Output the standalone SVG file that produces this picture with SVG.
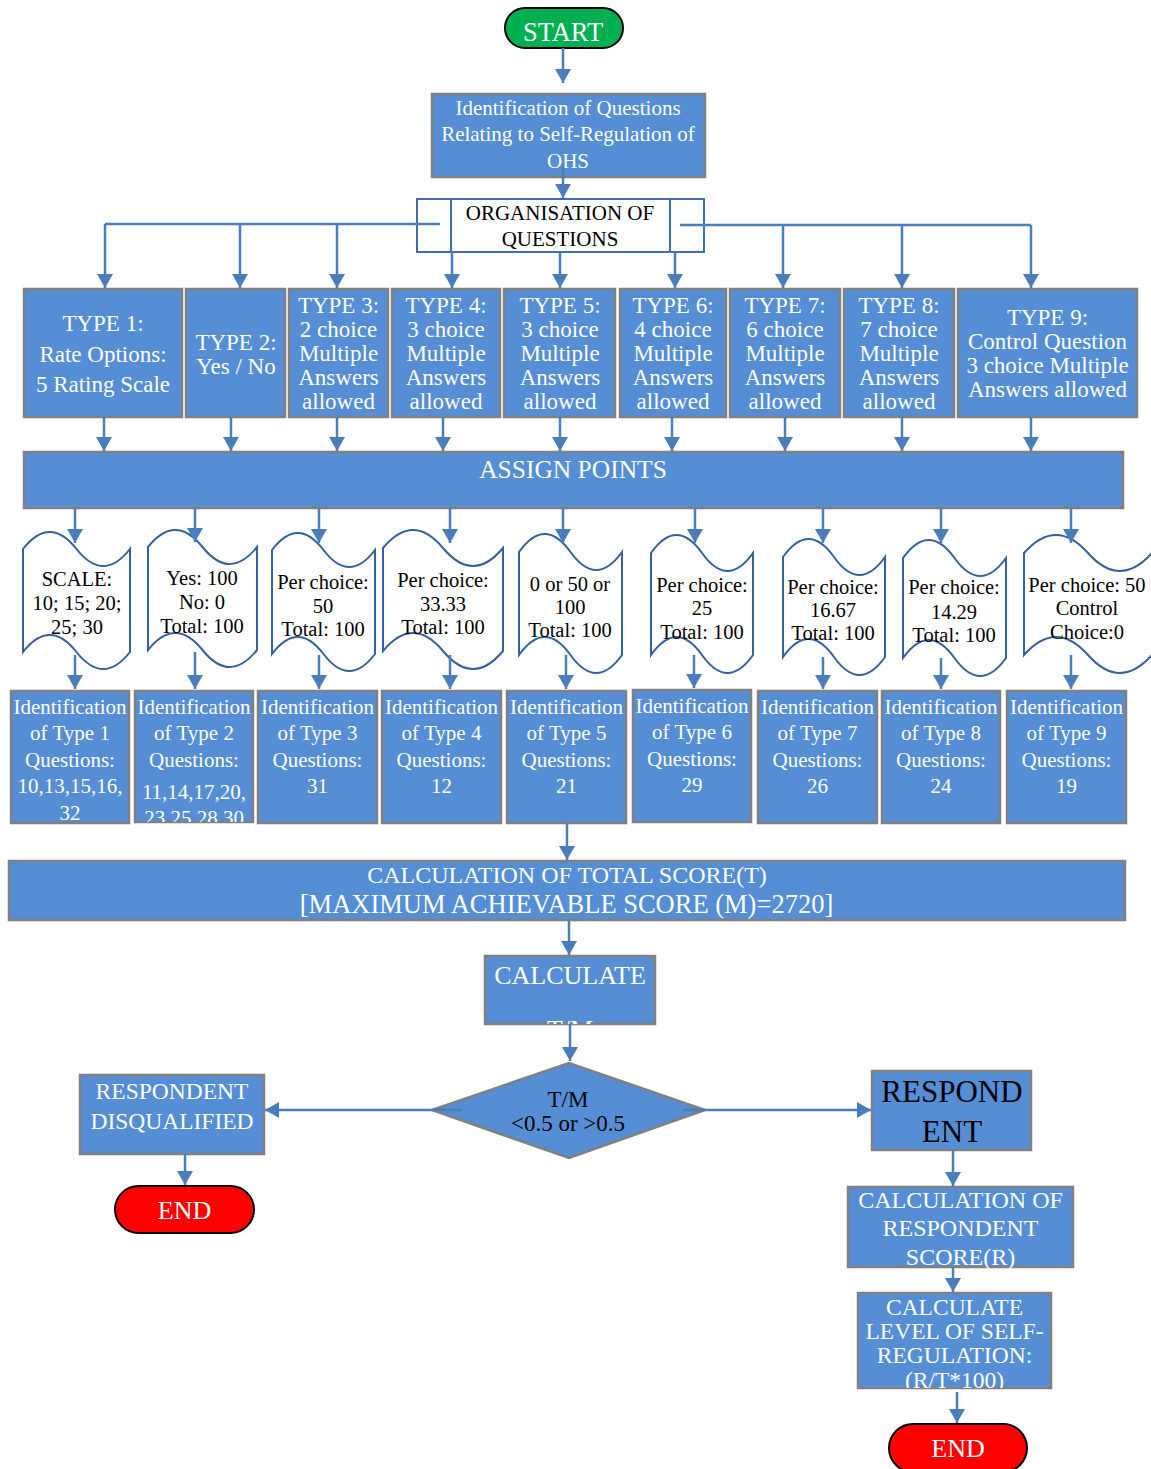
<svg xmlns="http://www.w3.org/2000/svg" width="1151" height="1469" viewBox="0 0 1151 1469">
<style>
text{font-family:"Liberation Serif","Times New Roman",serif;text-anchor:middle}
.box{fill:#558ed5;stroke:#808080;stroke-width:2.5}
.doc{fill:#ffffff;stroke:#35609f;stroke-width:2}
.w{fill:#ffffff}
.k{fill:#000000}
.t23{font-size:23px}
.t21{font-size:21px}
.t20{font-size:20.5px}
.conn path{fill:none;stroke:#4a7ebb;stroke-width:2.5}
.conn .a{marker-end:url(#ah)}
</style>
<defs>
<marker id="ah" viewBox="0 0 14 16" refX="14" refY="8" markerWidth="14" markerHeight="16" orient="auto" markerUnits="userSpaceOnUse"><path d="M0,0 L14,8 L0,16 z" fill="#4a7ebb"/></marker>
<clipPath id="c1"><rect x="11" y="691" width="118" height="132"/></clipPath>
<clipPath id="c2"><rect x="135" y="691" width="118" height="131"/></clipPath>
<clipPath id="c3"><rect x="485" y="956" width="170" height="68"/></clipPath>
<clipPath id="c4"><rect x="858" y="1293" width="193" height="95"/></clipPath>
</defs>

<g id="start">
<rect x="505" y="8" width="118" height="40" rx="20" fill="#00b050" stroke="#000" stroke-width="2"/>
<text x="563" y="41" class="w" font-size="26.5">START</text>
</g>

<g id="identify">
<rect class="box" x="432" y="94" width="273" height="83"/>
<text class="w t21" x="568" y="115">Identification of Questions</text>
<text class="w t21" x="568" y="141">Relating to Self-Regulation of</text>
<text class="w t21" x="568" y="168">OHS</text>
</g>

<g id="organisation">
<rect x="417" y="199" width="287" height="53" fill="#fff" stroke="#3f6fb0" stroke-width="2"/>
<line x1="451" y1="199" x2="451" y2="252" stroke="#3f6fb0" stroke-width="2"/>
<line x1="670" y1="199" x2="670" y2="252" stroke="#3f6fb0" stroke-width="2"/>
<text class="k" font-size="21" x="560" y="220">ORGANISATION OF</text>
<text class="k" font-size="21" x="560" y="246">QUESTIONS</text>
</g>

<g id="type1"><rect class="box" x="24" y="289" width="158" height="128"/>
<text class="w t23" x="103" y="331">TYPE 1:</text><text class="w t23" x="103" y="362">Rate Options:</text><text class="w t23" x="103" y="392">5 Rating Scale</text></g>
<g id="type2"><rect class="box" x="186" y="289" width="99" height="128"/>
<text class="w t23" x="236" y="350">TYPE 2:</text><text class="w t23" x="236" y="374">Yes / No</text></g>
<g id="type3"><rect class="box" x="289" y="289" width="99" height="128"/>
<text class="w t23" x="338.5" y="313">TYPE 3:</text><text class="w t23" x="338.5" y="337">2 choice</text><text class="w t23" x="338.5" y="361">Multiple</text><text class="w t23" x="338.5" y="385">Answers</text><text class="w t23" x="338.5" y="409">allowed</text></g>
<g id="type4"><rect class="box" x="392" y="289" width="108" height="128"/>
<text class="w t23" x="446" y="313">TYPE 4:</text><text class="w t23" x="446" y="337">3 choice</text><text class="w t23" x="446" y="361">Multiple</text><text class="w t23" x="446" y="385">Answers</text><text class="w t23" x="446" y="409">allowed</text></g>
<g id="type5"><rect class="box" x="504" y="289" width="111" height="128"/>
<text class="w t23" x="560" y="313">TYPE 5:</text><text class="w t23" x="560" y="337">3 choice</text><text class="w t23" x="560" y="361">Multiple</text><text class="w t23" x="560" y="385">Answers</text><text class="w t23" x="560" y="409">allowed</text></g>
<g id="type6"><rect class="box" x="620" y="289" width="106" height="128"/>
<text class="w t23" x="673" y="313">TYPE 6:</text><text class="w t23" x="673" y="337">4 choice</text><text class="w t23" x="673" y="361">Multiple</text><text class="w t23" x="673" y="385">Answers</text><text class="w t23" x="673" y="409">allowed</text></g>
<g id="type7"><rect class="box" x="730" y="289" width="110" height="128"/>
<text class="w t23" x="785" y="313">TYPE 7:</text><text class="w t23" x="785" y="337">6 choice</text><text class="w t23" x="785" y="361">Multiple</text><text class="w t23" x="785" y="385">Answers</text><text class="w t23" x="785" y="409">allowed</text></g>
<g id="type8"><rect class="box" x="844" y="289" width="110" height="128"/>
<text class="w t23" x="899" y="313">TYPE 8:</text><text class="w t23" x="899" y="337">7 choice</text><text class="w t23" x="899" y="361">Multiple</text><text class="w t23" x="899" y="385">Answers</text><text class="w t23" x="899" y="409">allowed</text></g>
<g id="type9"><rect class="box" x="958" y="289" width="179" height="128"/>
<text class="w t23" x="1047.5" y="325">TYPE 9:</text><text class="w t23" x="1047.5" y="349">Control Question</text><text class="w t23" x="1047.5" y="373">3 choice Multiple</text><text class="w t23" x="1047.5" y="397">Answers allowed</text></g>

<g id="assign"><rect class="box" x="24" y="452" width="1099" height="56"/>
<text class="w" font-size="25.5" x="573" y="478">ASSIGN POINTS</text></g>

<g id="points1"><path class="doc" d="M23,549 C40.8,526.3 58.7,526.3 76.5,549 C94.3,571.7 112.2,571.7 130,549 L130,652 C112.2,674.7 94.3,674.7 76.5,652 C58.7,629.3 40.8,629.3 23,652 Z"/>
<text class="k t20" x="77" y="586">SCALE:</text><text class="k t20" x="77" y="610">10; 15; 20;</text><text class="k t20" x="77" y="634">25; 30</text></g>
<g id="points2"><path class="doc" d="M148,547 C166.2,524.3 184.3,524.3 202.5,547 C220.7,569.7 238.8,569.7 257,547 L257,650 C238.8,672.7 220.7,672.7 202.5,650 C184.3,627.3 166.2,627.3 148,650 Z"/>
<text class="k t20" x="202" y="585">Yes: 100</text><text class="k t20" x="202" y="609">No: 0</text><text class="k t20" x="202" y="633">Total: 100</text></g>
<g id="points3"><path class="doc" d="M272,550 C289.2,527.3 306.3,527.3 323.5,550 C340.7,572.7 357.8,572.7 375,550 L375,654 C357.8,676.7 340.7,676.7 323.5,654 C306.3,631.3 289.2,631.3 272,654 Z"/>
<text class="k t20" x="323" y="589">Per choice:</text><text class="k t20" x="323" y="613">50</text><text class="k t20" x="323" y="636">Total: 100</text></g>
<g id="points4"><path class="doc" d="M383,548 C403,524 423,524 443,548 C463,572 483,572 503,548 L503,651 C483,675 463,675 443,651 C423,627 403,627 383,651 Z"/>
<text class="k t20" x="443" y="587">Per choice:</text><text class="k t20" x="443" y="611">33.33</text><text class="k t20" x="443" y="634">Total: 100</text></g>
<g id="points5"><path class="doc" d="M519,552 C536.2,528 553.3,528 570.5,552 C587.7,576 604.8,576 622,552 L622,655 C604.8,679 587.7,679 570.5,655 C553.3,631 536.2,631 519,655 Z"/>
<text class="k t20" x="570" y="591">0 or 50 or</text><text class="k t20" x="570" y="614">100</text><text class="k t20" x="570" y="637">Total: 100</text></g>
<g id="points6"><path class="doc" d="M651,553 C668,529 685,529 702,553 C719,577 736,577 753,553 L753,655 C736,679 719,679 702,655 C685,631 668,631 651,655 Z"/>
<text class="k t20" x="702" y="592">Per choice:</text><text class="k t20" x="702" y="615">25</text><text class="k t20" x="702" y="639">Total: 100</text></g>
<g id="points7"><path class="doc" d="M783,557 C800,533 817,533 834,557 C851,581 868,581 885,557 L885,657 C868,681 851,681 834,657 C817,633 800,633 783,657 Z"/>
<text class="k t20" x="833" y="594">Per choice:</text><text class="k t20" x="833" y="617">16.67</text><text class="k t20" x="833" y="640">Total: 100</text></g>
<g id="points8"><path class="doc" d="M903,558 C920.2,534 937.3,534 954.5,558 C971.7,582 988.8,582 1006,558 L1006,658 C988.8,682 971.7,682 954.5,658 C937.3,634 920.2,634 903,658 Z"/>
<text class="k t20" x="954" y="594">Per choice:</text><text class="k t20" x="954" y="619">14.29</text><text class="k t20" x="954" y="642">Total: 100</text></g>
<g id="points9"><path class="doc" d="M1024,553 C1045.3,529 1066.7,529 1088,553 C1109.3,577 1130.7,577 1152,553 L1152,655 C1130.7,679 1109.3,679 1088,655 C1066.7,631 1045.3,631 1024,655 Z"/>
<text class="k t20" x="1087" y="592">Per choice: 50</text><text class="k t20" x="1087" y="615">Control</text><text class="k t20" x="1087" y="639">Choice:0</text></g>

<g id="ident1"><rect class="box" x="11" y="691" width="118" height="132"/>
<g clip-path="url(#c1)"><text class="w t21" x="70" y="714">Identification</text><text class="w t21" x="70" y="740">of Type 1</text><text class="w t21" x="70" y="767">Questions:</text><text class="w t21" x="70" y="793">10,13,15,16,</text><text class="w t21" x="70" y="820">32</text></g></g>
<g id="ident2"><rect class="box" x="135" y="691" width="118" height="131"/>
<g clip-path="url(#c2)"><text class="w t21" x="194" y="714">Identification</text><text class="w t21" x="194" y="740">of Type 2</text><text class="w t21" x="194" y="767">Questions:</text><text class="w t21" x="194" y="799">11,14,17,20,</text><text class="w t21" x="194" y="825">23,25,28,30</text></g></g>
<g id="ident3"><rect class="box" x="258" y="691" width="119" height="132"/>
<text class="w t21" x="317.5" y="714">Identification</text><text class="w t21" x="317.5" y="740">of Type 3</text><text class="w t21" x="317.5" y="767">Questions:</text><text class="w t21" x="317.5" y="793">31</text></g>
<g id="ident4"><rect class="box" x="382" y="691" width="119" height="132"/>
<text class="w t21" x="441.5" y="714">Identification</text><text class="w t21" x="441.5" y="740">of Type 4</text><text class="w t21" x="441.5" y="767">Questions:</text><text class="w t21" x="441.5" y="793">12</text></g>
<g id="ident5"><rect class="box" x="507" y="691" width="119" height="132"/>
<text class="w t21" x="566.5" y="714">Identification</text><text class="w t21" x="566.5" y="740">of Type 5</text><text class="w t21" x="566.5" y="767">Questions:</text><text class="w t21" x="566.5" y="793">21</text></g>
<g id="ident6"><rect class="box" x="633" y="690" width="118" height="132"/>
<text class="w t21" x="692" y="713">Identification</text><text class="w t21" x="692" y="739">of Type 6</text><text class="w t21" x="692" y="766">Questions:</text><text class="w t21" x="692" y="792">29</text></g>
<g id="ident7"><rect class="box" x="758" y="691" width="119" height="132"/>
<text class="w t21" x="817.5" y="714">Identification</text><text class="w t21" x="817.5" y="740">of Type 7</text><text class="w t21" x="817.5" y="767">Questions:</text><text class="w t21" x="817.5" y="793">26</text></g>
<g id="ident8"><rect class="box" x="882" y="691" width="118" height="132"/>
<text class="w t21" x="941" y="714">Identification</text><text class="w t21" x="941" y="740">of Type 8</text><text class="w t21" x="941" y="767">Questions:</text><text class="w t21" x="941" y="793">24</text></g>
<g id="ident9"><rect class="box" x="1007" y="691" width="119" height="132"/>
<text class="w t21" x="1066.5" y="714">Identification</text><text class="w t21" x="1066.5" y="740">of Type 9</text><text class="w t21" x="1066.5" y="767">Questions:</text><text class="w t21" x="1066.5" y="793">19</text></g>

<g id="total"><rect class="box" x="9" y="861" width="1116" height="59"/>
<text class="w" font-size="24" x="567" y="883">CALCULATION OF TOTAL SCORE(T)</text>
<text class="w" font-size="26.5" x="566.5" y="913">[MAXIMUM ACHIEVABLE SCORE (M)=2720]</text></g>

<g id="calculate"><rect class="box" x="485" y="956" width="170" height="68"/>
<g clip-path="url(#c3)"><text class="w" font-size="26" x="570" y="984">CALCULATE</text><text class="w" font-size="26" x="570" y="1038">T/M</text></g></g>

<g id="decision"><path d="M432,1110 L569,1063 L705,1110 L569,1158 Z" fill="#558ed5" stroke="#808080" stroke-width="2.5"/>
<text class="k t23" x="568" y="1107">T/M</text><text class="k t23" x="568" y="1131">&lt;0.5 or &gt;0.5</text></g>

<g id="disqualified"><rect class="box" x="80" y="1075" width="184" height="79"/>
<text class="w" font-size="23.5" x="172" y="1099">RESPONDENT</text><text class="w" font-size="23.5" x="172" y="1129">DISQUALIFIED</text></g>

<g id="end1"><rect x="115" y="1186" width="139" height="47" rx="23.5" fill="#ff0000" stroke="#000" stroke-width="2"/>
<text class="w" font-size="26" x="184.5" y="1219">END</text></g>

<g id="respondent"><rect class="box" x="872" y="1071" width="159" height="79"/>
<text class="k" font-size="31" x="952" y="1102">RESPOND</text><text class="k" font-size="31" x="952" y="1142">ENT</text></g>

<g id="respscore"><rect class="box" x="848" y="1187" width="225" height="80"/>
<text class="w" font-size="24" x="960.5" y="1208">CALCULATION OF</text><text class="w" font-size="24" x="960.5" y="1236">RESPONDENT</text><text class="w" font-size="24" x="960.5" y="1265">SCORE(R)</text></g>

<g id="level"><rect class="box" x="858" y="1293" width="193" height="95"/>
<g clip-path="url(#c4)"><text class="w" font-size="23.5" x="954.5" y="1315">CALCULATE</text><text class="w" font-size="23.5" x="954.5" y="1339">LEVEL OF SELF-</text><text class="w" font-size="23.5" x="954.5" y="1363">REGULATION:</text><text class="w" font-size="23.5" x="954.5" y="1388">(R/T*100)</text></g></g>

<g id="end2"><rect x="889" y="1424" width="138" height="48" rx="24" fill="#ff0000" stroke="#000" stroke-width="2"/>
<text class="w" font-size="26" x="958" y="1457">END</text></g>

<g id="connectors" class="conn">
<path class="a" d="M563,48 V83"/>
<path class="a" d="M563,166 V198"/>
<path d="M440,224 H105"/>
<path d="M680,225 H1031"/>
<path class="a" d="M105,224 V288"/>
<path class="a" d="M240,224 V288"/>
<path class="a" d="M337,224 V288"/>
<path class="a" d="M452,252 V288"/>
<path class="a" d="M560,252 V288"/>
<path class="a" d="M675,252 V288"/>
<path class="a" d="M783,225 V288"/>
<path class="a" d="M902,225 V288"/>
<path class="a" d="M1031,225 V288"/>
<path class="a" d="M104,417 V451"/>
<path class="a" d="M231,417 V451"/>
<path class="a" d="M337,417 V451"/>
<path class="a" d="M443,417 V451"/>
<path class="a" d="M560,417 V451"/>
<path class="a" d="M672,417 V451"/>
<path class="a" d="M785,417 V451"/>
<path class="a" d="M902,417 V451"/>
<path class="a" d="M1031,417 V451"/>
<path class="a" d="M75,508 V543"/>
<path class="a" d="M195,508 V542"/>
<path class="a" d="M319,508 V543"/>
<path class="a" d="M450,508 V543"/>
<path class="a" d="M563,508 V543"/>
<path class="a" d="M695,508 V543"/>
<path class="a" d="M823,508 V543"/>
<path class="a" d="M941,508 V543"/>
<path class="a" d="M1071,508 V543"/>
<path class="a" d="M75,655 V689"/>
<path class="a" d="M195,652 V689"/>
<path class="a" d="M319,655 V689"/>
<path class="a" d="M450,655 V689"/>
<path class="a" d="M566,655 V689"/>
<path class="a" d="M694,655 V688"/>
<path class="a" d="M823,657 V689"/>
<path class="a" d="M941,658 V689"/>
<path class="a" d="M1071,655 V689"/>
<path class="a" d="M567,823 V860"/>
<path class="a" d="M569,920 V955"/>
<path class="a" d="M570,1024 V1061"/>
<path class="a" d="M462,1110 H265"/>
<path class="a" d="M683,1110 H871"/>
<path class="a" d="M185,1154 V1185"/>
<path class="a" d="M953,1150 V1186"/>
<path class="a" d="M953,1267 V1292"/>
<path class="a" d="M957,1392 V1423"/>
</g>
</svg>
